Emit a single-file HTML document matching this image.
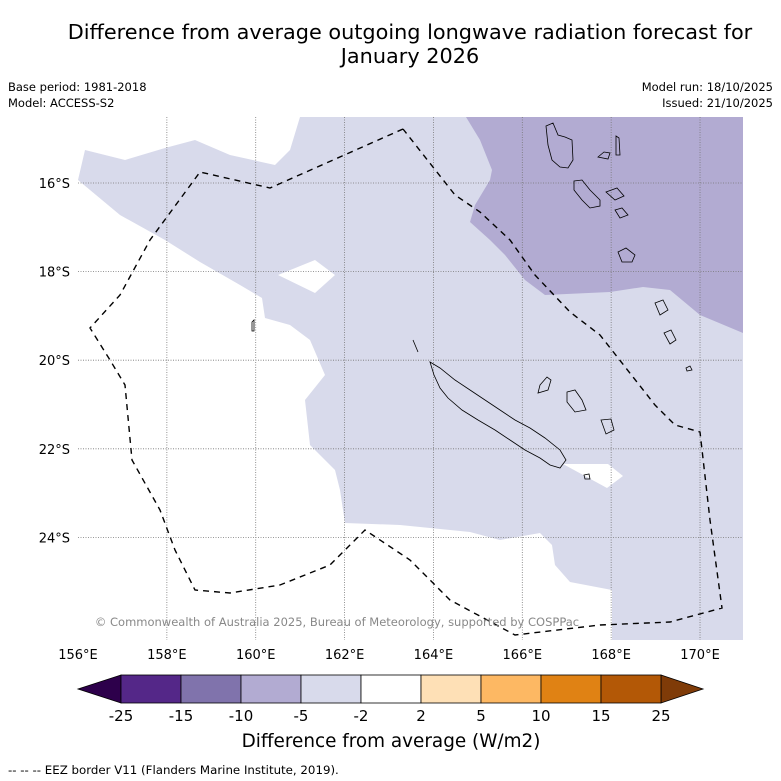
<!DOCTYPE html>
<html><head><meta charset="utf-8">
<style>
body{margin:0;background:#fff;font-family:"Liberation Sans","DejaVu Sans",sans-serif;}
svg{display:block}
text{font-family:"DejaVu Sans","Liberation Sans",sans-serif;}
</style></head>
<body>
<svg id="chart" width="781" height="781" viewBox="0 0 781 781">
<text x="410" y="39" font-size="20.8" text-anchor="middle">Difference from average outgoing longwave radiation forecast for</text>
<text x="410" y="63" font-size="20.8" text-anchor="middle">January 2026</text>
<text x="8" y="91" font-size="11.5">Base period: 1981-2018</text>
<text x="8" y="107" font-size="11.5">Model: ACCESS-S2</text>
<text x="773" y="91" font-size="11.5" text-anchor="end">Model run: 18/10/2025</text>
<text x="773" y="107" font-size="11.5" text-anchor="end">Issued: 21/10/2025</text>

<g>
<clipPath id="mc"><rect x="78" y="117" width="665" height="523"/></clipPath>
<g clip-path="url(#mc)">
<polygon fill="#d8daeb" points="300,117 743,117 743,640 612,640 612,590 570,582 555,565 552,545 540,533 500,540 470,532 400,525 345,523 340,490 335,470 310,445 305,400 325,375 310,340 290,325 265,318 262,298 240,285 200,262 165,240 120,215 78,180 85,150 125,160 165,148 195,140 230,155 275,165 290,150"/>
<polygon fill="#fff" points="278,275 315,260 335,275 315,293"/>
<polygon fill="#fff" points="563,464 608,464 623,476 607,488"/>
<polygon fill="#b2abd2" points="466,117 743,117 743,333 700,315 670,290 643,287 610,292 545,295 525,280 505,255 490,240 470,222 475,205 490,180 492,170 480,140"/>
<g id="grid" stroke="#777" stroke-width="0.8" stroke-dasharray="1,1.5"></g>
<g fill="none" stroke="#000" stroke-width="0.8">
<path d="M413,340 L418,352 M430,362 L440,368 L455,380 L470,390 L485,400 L500,410 L515,420 L530,428 L545,438 L560,450 L566,460 L560,468 L550,465 L540,458 L525,450 L510,440 L495,430 L478,420 L462,410 L448,398 L440,388 L434,375 L430,362Z"/>
<path d="M546,126 L553,123 L558,135 L565,137 L572,140 L573,160 L568,168 L560,167 L552,160 L548,145Z"/>
<path d="M616,136 L619,138 L620,155 L616,155Z M598,157 L604,152 L610,153 L608,159Z M574,181 L582,180 L590,190 L600,200 L600,206 L590,208 L582,200 L574,190Z M606,192 L617,188 L624,196 L615,200Z M615,210 L622,208 L628,215 L620,218Z M618,252 L626,248 L635,255 L632,262 L622,262Z M655,303 L663,300 L668,310 L660,315Z M664,333 L671,330 L676,340 L670,344Z M686,368 L690,366 L692,370 L687,371Z M540,385 L547,377 L551,380 L548,390 L538,393Z M567,392 L575,390 L582,400 L586,410 L575,412 L567,402Z M601,420 L611,419 L614,430 L606,434Z M584,475 L589,474 L590,479 L585,479Z M252,322 L254,320 L254,331 L252,331Z"/>
</g>
<polyline fill="none" stroke="#000" stroke-width="1.4" stroke-dasharray="6,5" points="403,129 270,188 200,172 150,240 120,295 90,328 110,360 125,385 132,460 160,510 175,550 195,590 230,593 280,585 330,565 365,530 410,560 450,600 515,635 600,625 670,622 722,608 710,520 700,432 675,425 655,405 600,335 570,312 535,275 510,240 480,212 455,195 403,129"/>
</g>
<text x="337" y="626" font-size="11.5" fill="#888" text-anchor="middle">© Commonwealth of Australia 2025, Bureau of Meteorology, supported by COSPPac</text>
<g id="ticks" font-size="13"></g>
</g>

<g id="cbar"></g>
<text x="391" y="747" font-size="18.4" text-anchor="middle">Difference from average (W/m2)</text>
<text x="8" y="774" font-size="11.8">-- -- -- EEZ border V11 (Flanders Marine Institute, 2019).</text>
</svg>
<script>
const lonTicks=[156,158,160,162,164,166,168,170];
const latTicks=[16,18,20,22,24];
const cbLevels=[-25,-15,-10,-5,-2,2,5,10,15,25];
const cbColors=["#542788","#8073ac","#b2abd2","#d8daeb","#ffffff","#fee0b6","#fdb863","#e08214","#b35806"];
const NS="http://www.w3.org/2000/svg";
const xLon=l=>78+(l-156)*44.43;
const yLat=l=>183+(l-16)*44.3;
const grid=document.getElementById('grid'),ticks=document.getElementById('ticks');
function mk(t,a,p){const e=document.createElementNS(NS,t);for(const k in a)e.setAttribute(k,a[k]);p.appendChild(e);return e;}
lonTicks.forEach(l=>{const x=xLon(l);
 if(l>156){const g=mk('line',{x1:x,x2:x,y1:117,y2:640},grid);
 
 }
 const t=mk('text',{x:x,y:659,'text-anchor':'middle','font-size':13},ticks);t.textContent=l+'°E';
 
 });
latTicks.forEach(l=>{const y=yLat(l);
 const g=mk('line',{x1:78,x2:743,y1:y,y2:y},grid);
 
 
 const t=mk('text',{x:70,y:y+5,'text-anchor':'end','font-size':13},ticks);t.textContent=l+'°S';
 
 });
const cb=document.getElementById('cbar');
const x0=121,w=60,y0=675,h=28;
const lt=mk('polygon',{points:`78,${y0+h/2} ${x0},${y0} ${x0},${y0+h}`,fill:'#2d004b',stroke:'#000','stroke-width':0.8},cb);


const xe=x0+w*cbColors.length;
const rt=mk('polygon',{points:`${xe},${y0} ${xe+42},${y0+h/2} ${xe},${y0+h}`,fill:'#7f3b08',stroke:'#000','stroke-width':0.8},cb);


cbColors.forEach((c,i)=>{const r=mk('rect',{x:x0+i*w,y:y0,width:w,height:h,fill:c,stroke:'#000','stroke-width':0.8},cb);
 
 });
cbLevels.forEach((v,i)=>{const t=mk('text',{x:x0+i*w,y:721,'text-anchor':'middle','font-size':15},cb);t.textContent=v;
 
 });
</script>
</body></html>
